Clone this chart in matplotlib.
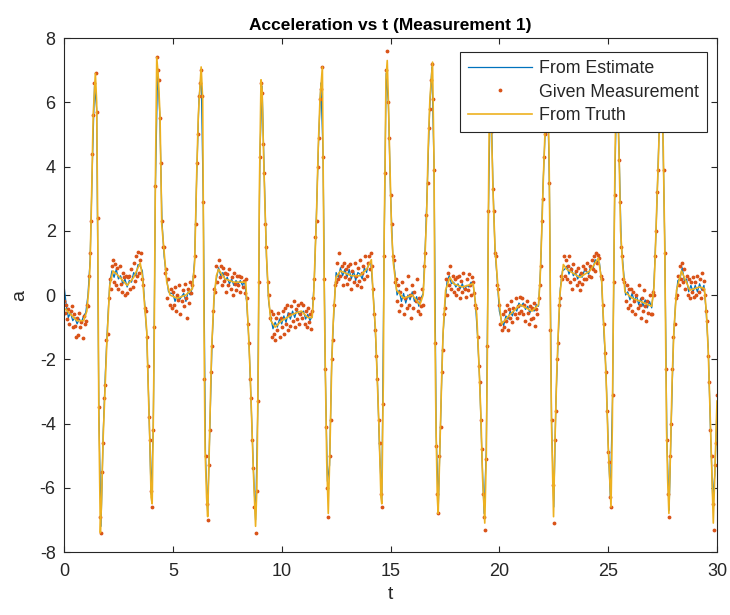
import numpy as np
import matplotlib
matplotlib.use("Agg")
import matplotlib.pyplot as plt

plt.rcParams['font.family'] = ['Liberation Sans', 'DejaVu Sans']
plt.rcParams['axes.unicode_minus'] = False

# True acceleration profile (breakpoints of the reference trajectory)
t_truth = [0.0, 0.3, 0.6, 0.9, 1.05, 1.15, 1.2, 1.28, 1.34, 1.44, 1.5, 1.55, 1.6, 1.67, 1.72, 1.8, 1.96,
           2.1, 2.25, 2.5, 2.9, 3.2, 3.5, 3.6, 3.7, 3.8, 3.87, 3.95, 4.0, 4.05, 4.1, 4.14, 4.19, 4.26,
           4.33, 4.41, 4.49, 4.64, 4.72, 4.87, 5.2, 5.6, 5.9, 6.0, 6.09, 6.17, 6.3, 6.37, 6.43, 6.48,
           6.55, 6.6, 6.7, 6.78, 6.89, 7.0, 7.1, 7.4, 7.8, 8.35, 8.47, 8.55, 8.62, 8.7, 8.8, 8.86,
           8.93, 8.97, 9.05, 9.1, 9.16, 9.23, 9.31, 9.4, 9.5, 9.7, 10.0, 10.5, 10.9, 11.2, 11.4,
           11.47, 11.52, 11.6, 11.68, 11.76, 11.87, 11.91, 11.96, 12.0, 12.07, 12.14, 12.22, 12.3,
           12.37, 12.49, 12.7, 13.2, 13.6, 13.9, 14.12, 14.2, 14.31, 14.39, 14.47, 14.56, 14.6,
           14.67, 14.71, 14.75, 14.79, 14.85, 14.9, 14.97, 15.05, 15.13, 15.28, 15.6, 16.0, 16.35,
           16.5, 16.56, 16.66, 16.73, 16.81, 16.93, 17.0, 17.04, 17.09, 17.15, 17.19, 17.27, 17.35,
           17.42, 17.53, 17.73, 17.9, 18.3, 18.8, 18.96, 19.06, 19.15, 19.23, 19.33, 19.4, 19.46,
           19.49, 19.53, 19.6, 19.64, 19.72, 19.8, 19.95, 20.1, 20.5, 20.95, 21.5, 21.8, 21.87,
           21.94, 22.02, 22.1, 22.2, 22.28, 22.32, 22.36, 22.4, 22.45, 22.49, 22.55, 22.63, 22.71,
           22.78, 22.94, 23.1, 23.7, 24.16, 24.55, 24.7, 24.77, 24.85, 24.93, 25.0, 25.13, 25.19,
           25.23, 25.28, 25.32, 25.4, 25.51, 25.57, 25.66, 25.77, 26.1, 26.5, 27.0, 27.1, 27.15,
           27.22, 27.3, 27.43, 27.53, 27.6, 27.65, 27.68, 27.73, 27.79, 27.87, 27.94, 28.02, 28.14,
           28.37, 28.75, 29.2, 29.42, 29.52, 29.6, 29.68, 29.75, 29.83, 29.9, 30.0]
a_truth = [-0.4, -0.6, -0.8, -0.8, -0.5, 0.3, 1.0, 3.5, 5.6, 6.9, 6.0, 2.0, -3.8, -7.4, -6.5, -4.4, -1.6,
           0.3, 0.75, 0.6, 0.3, 0.55, 1.0, 0.6, -0.3, -1.1, -2.9, -4.7, -6.3, -6.5, -4.0, -1.7, 3.0, 7.4,
           6.8, 5.6, 2.2, 1.0, 0.4, 0.0, -0.1, 0.0, 0.2, 1.0, 3.6, 5.6, 7.1, 6.1, -0.9, -4.8,
           -6.3, -6.9, -4.0, -1.7, -0.1, 0.6, 0.8, 0.5, 0.4, 0.4, -1.1, -2.4, -3.8, -5.5, -7.2, -6.0,
           -1.7, 3.0, 6.7, 6.4, 4.6, 2.8, 1.1, -0.1, -0.8, -1.0, -0.8, -0.6, -0.5, -0.7, -0.7,
           0.0, 1.0, 2.5, 4.6, 6.1, 7.1, 3.6, -0.1, -2.1, -5.2, -6.8, -4.7, -2.1,
           -0.8, 0.55, 0.75, 0.6, 0.6, 0.8, 1.1, 0.0, -1.1, -2.6, -4.1, -6.3, -6.5,
           -2.6, 2.0, 4.0, 6.7, 7.3, 6.1, 4.1, 2.0, 1.0, 0.15, -0.1, 0.0, -0.3,
           0.0, 0.8, 2.5, 4.6, 6.1, 7.25, 4.1, -1.1, -4.1, -6.3, -6.8, -4.7, -2.6,
           -1.1, 0.15, 0.55, 0.35, 0.25, 0.35, -0.6, -2.1, -3.7, -5.7, -7.1, -5.0, -1.1,
           2.0, 5.1, 7.0, 5.1, 3.0, 1.5, 0.1, -0.9, -0.6, -0.3, -0.5, -0.3, 0.45,
           1.8, 3.6, 5.1, 7.0, 4.6, 2.0, -1.8, -4.1, -5.7, -6.9, -4.7, -2.6, -1.1,
           0.0, 0.95, 0.8, 0.55, 0.75, 1.15, 0.45, -0.6, -1.6, -3.1, -4.7, -6.6, -4.1,
           -1.1, 2.0, 4.6, 7.0, 4.1, 2.0, 1.0, 0.1, -0.1, -0.2, -0.35, 0.2, 1.0,
           2.5, 4.1, 7.0, 4.6, 1.5, -2.1, -4.1, -5.7, -6.8, -4.7, -2.6, -1.1, 0.15,
           0.75, 0.15, 0.25, 0.2, -0.6, -1.8, -3.6, -5.2, -7.1, -5.5, -3.3]

# Accelerometer samples, 0.05 s apart (one row per second)
a_meas = [
    -0.2, -0.55, -0.3, -0.75, -0.45, -0.9, -0.5, -0.35, -1.0, -0.6, -0.95, -1.3, -0.7, -1.25, -0.55, -1.0, -0.85, -1.35, -0.65, -0.9,
    -0.8, -0.3, -0.35, 0.6, 1.3, 2.3, 4.4, 5.6, 6.6, 6.9, 5.7, 2.4, -3.5, -6.9, -7.4, -5.5, -4.6, -3.2, -2.8, -1.4,
    -1.2, -0.1, 0.5, 0.2, 0.9, 1.1, 0.4, 0.95, 0.3, 0.85, 0.2, 0.9, 0.35, 0.1, 0.7, 0.55, 0.0, 0.6, 0.05, 0.55,
    0.6, 0.2, 0.8, 0.25, 1.0, 0.45, 1.2, 0.6, 1.35, 0.7, 1.1, 1.3, 0.5, 0.3, -0.4, -0.5, -1.3, -2.2, -3.8, -4.5,
    -6.1, -6.6, -4.2, -1.0, 3.4, 7.4, 7.0, 6.7, 5.5, 4.1, 2.3, 1.5, 1.5, 0.7, 0.8, -0.1, 0.5, -0.3, 0.2, -0.4,
    0.1, -0.3, 0.25, -0.5, 0.0, -0.15, 0.3, -0.6, -0.2, 0.15, -0.35, 0.35, -0.1, -0.7, 0.2, -0.25, 0.4, 0.05, 0.3, 0.6,
    1.2, 2.2, 4.1, 5.0, 6.2, 6.6, 7.0, 6.2, 2.9, -2.6, -5.0, -6.5, -7.0, -5.3, -4.2, -2.4, -1.6, -0.5, 0.2, 0.1,
    0.9, 0.4, 1.1, 0.55, 0.9, 0.3, 0.85, 0.45, 0.7, 0.1, 0.65, 0.3, 0.8, 0.2, 0.55, 0.0, 0.7, 0.35, 0.15, 0.6,
    0.3, 0.6, 0.1, 0.55, 0.25, 0.45, 0.05, 0.5, -0.1, -0.9, -1.5, -2.6, -3.2, -4.5, -5.4, -6.6, -7.4, -6.1, -3.3, 0.4,
    4.3, 6.6, 6.3, 4.7, 3.8, 2.2, 1.5, 0.4, 0.0, -0.7, -0.5, -1.3, -0.6, -1.2, -1.4, -0.7, -1.1, -0.55, -1.3, -0.7,
    -1.0, -0.5, -1.2, -0.4, -0.9, -0.3, -1.1, -0.6, -0.95, -0.35, -0.8, -0.2, -1.0, -0.45, -0.75, -0.3, -0.9, -0.6, -0.25, -0.7,
    -0.3, -0.9, -0.5, -1.0, -0.4, -0.85, -0.6, -1.05, -0.5, -0.1, 0.5, 1.8, 2.3, 4.0, 4.9, 6.1, 6.4, 7.1, 4.3, 0.5,
    -2.3, -4.1, -6.0, -6.9, -5.0, -3.9, -2.0, -1.4, -0.3, 0.3, 0.4, 1.0, 0.5, 1.3, 0.6, 0.9, 0.3, 1.0, 0.55, 0.8,
    0.35, 0.9, 0.5, 0.95, 0.2, 0.75, 0.4, 1.0, 0.6, 0.3, 0.85, 0.45, 1.1, 0.25, 0.7, 0.9, 0.5, 1.2, 0.6, 1.0,
    1.2, 0.8, 1.3, 0.9, 0.2, -0.6, -1.1, -1.9, -2.6, -3.9, -4.6, -6.2, -6.6, -3.4, 1.2, 3.8, 7.0, 7.6, 6.0, 4.9,
    3.1, 2.2, 1.2, 1.1, 0.4, 0.5, -0.2, 0.3, -0.5, 0.1, -0.3, 0.4, -0.6, -0.1, 0.2, -0.4, 0.6, -0.3, 0.0, -0.7,
    0.3, -0.4, 0.1, -0.2, 0.5, -0.5, -0.1, -0.6, -0.35, 0.2, -0.3, 0.9, 1.3, 2.5, 3.5, 5.2, 5.8, 6.7, 7.2, 6.1,
    3.9, -1.5, -4.7, -6.2, -6.8, -5.0, -4.1, -2.4, -1.7, -0.6, -0.4, 0.5, 0.0, 0.7, 0.3, 0.9, 0.2, 0.6, 0.1, 0.5,
    0.0, 0.55, 0.2, 0.6, -0.1, 0.45, 0.1, 0.7, 0.2, -0.05, 0.5, 0.15, 0.65, 0.3, 0.0, 0.55, 0.4, 0.05, -0.3, -0.4,
    -1.3, -2.2, -2.7, -3.9, -4.8, -6.2, -6.9, -7.3, -5.1, -1.6, 2.6, 6.0, 7.1, 5.1, 3.3, 2.6, 1.3, 1.2, 0.3, 0.2,
    -0.3, -0.9, -1.1, -0.6, -1.0, -0.5, -0.8, -0.3, -1.1, -0.45, -0.7, -0.2, -0.85, -0.4, -0.6, -0.1, -0.7, -0.35, -0.55, -0.05,
    -0.5, -0.1, -0.6, -0.3, -0.8, -0.2, -0.55, -0.9, -0.35, -0.75, -0.4, -0.7, -0.25, -0.95, -0.45, -0.6, -0.1, 0.3, 0.9, 2.3,
    3.0, 4.3, 5.0, 6.2, 7.0, 5.3, 3.5, -1.1, -3.9, -5.9, -7.1, -4.5, -3.6, -2.0, -1.5, -0.3, -0.1, 0.6, 0.5, 1.2,
    0.6, 1.1, 0.5, 0.9, 1.2, 0.4, 0.8, 0.2, 0.95, 0.5, 0.75, 0.3, 0.85, 0.4, 0.15, 0.7, 0.35, 0.9, 0.5, 0.8,
    0.5, 1.0, 0.6, 0.9, 0.55, 1.1, 0.8, 1.2, 0.75, 1.3, 1.0, 1.25, 1.15, 0.6, 0.5, -0.3, -0.9, -1.8, -2.4, -3.6,
    -4.9, -5.2, -6.3, -6.6, -3.1, 0.4, 3.1, 5.6, 7.1, 5.4, 4.2, 2.9, 1.5, 1.2, 0.5, 0.4, -0.2, 0.3, -0.4, 0.2,
    -0.3, 0.2, -0.5, 0.1, -0.2, -0.6, 0.0, -0.4, 0.3, -0.3, -0.7, -0.1, -0.5, 0.15, -0.35, -0.8, -0.2, -0.55, 0.0, -0.6,
    -0.6, 0.1, 0.0, 1.2, 2.0, 3.2, 3.9, 5.5, 6.4, 7.0, 5.3, 3.9, 1.3, -2.3, -4.5, -6.2, -6.9, -5.0, -4.0, -2.3,
    -1.3, -0.9, -0.1, 0.0, 0.6, 0.3, 0.9, 0.5, 1.0, 0.4, 0.8, 0.2, 0.6, 0.0, 0.5, -0.1, 0.4, 0.1, 0.55, -0.05,
    0.4, 0.0, 0.6, 0.1, 0.5, -0.1, 0.7, 0.2, 0.45, 0.0, -0.5, -0.8, -1.9, -2.7, -4.2, -5.0, -6.5, -7.3, -5.3, -4.6, -3.1,
]
t_meas = np.linspace(0.0, 30.0, len(a_meas))

# Filter output, 0.1 s apart (one row per second)
a_est = [
    0.3, -0.3, -0.7, -0.55, -0.8, -0.7, -0.9, -0.75, -0.85, -0.65,
    -0.55, 0.0, 1.1, 4.0, 6.5, 5.8, -3.6, -7.2, -4.3, -2.4,
    -0.9, 0.35, 0.75, 0.55, 0.8, 0.5, 0.6, 0.35, 0.5, 0.25,
    0.45, 0.4, 0.7, 0.6, 0.95, 0.9, 0.75, -0.2, -1.2, -3.5,
    -6.2, -4.2, 3.4, 7.0, 5.6, 2.3, 1.2, 0.6, 0.1, 0.05,
    0.05, -0.2, 0.0, -0.15, -0.05, 0.05, -0.2, 0.1, 0.0, 0.25,
    1.1, 3.8, 6.1, 6.9, 2.8, -5.0, -6.8, -4.1, -1.5, 0.0,
    0.5, 0.85, 0.6, 0.7, 0.45, 0.55, 0.35, 0.5, 0.3, 0.45,
    0.35, 0.45, 0.3, 0.45, -0.3, -1.5, -3.5, -5.4, -7.0, -3.6,
    4.4, 6.5, 3.7, 1.2, -0.2, -0.7, -1.05, -0.85, -1.0, -0.75,
    -0.9, -0.65, -0.85, -0.55, -0.75, -0.5, -0.7, -0.45, -0.6, -0.55,
    -0.5, -0.75, -0.6, -0.8, -0.65, 0.5, 2.6, 4.9, 6.6, 4.4,
    -2.2, -5.8, -5.3, -2.0, -0.5, 0.7, 0.55, 0.85, 0.6, 0.8,
    0.55, 0.8, 0.5, 0.75, 0.45, 0.7, 0.65, 0.5, 0.85, 0.7,
    1.0, 1.0, 0.1, -1.1, -2.7, -4.9, -6.4, 1.1, 6.9, 6.0,
    3.2, 1.3, 0.7, 0.0, 0.15, -0.2, 0.05, -0.25, 0.0, -0.15,
    0.1, -0.2, -0.05, -0.35, -0.1, 0.05, 1.6, 3.6, 5.8, 7.1,
    4.0, -4.4, -6.5, -4.0, -1.4, -0.3, 0.45, 0.6, 0.35, 0.4,
    0.25, 0.35, 0.2, 0.35, 0.15, 0.3, 0.25, 0.4, 0.3, -0.25,
    -1.3, -2.7, -5.0, -6.8, -4.8, 2.6, 6.9, 3.6, 1.4, 0.5,
    -0.5, -0.8, -0.95, -0.65, -0.75, -0.5, -0.65, -0.4, -0.5, -0.25,
    -0.35, -0.25, -0.45, -0.35, -0.55, -0.45, -0.5, -0.3, -0.35, 0.9,
    3.3, 5.0, 6.9, 3.4, -4.0, -6.6, -3.3, -1.4, 0.2, 0.75,
    0.8, 0.9, 0.65, 0.85, 0.6, 0.7, 0.5, 0.65, 0.55, 0.75,
    0.75, 0.65, 0.9, 0.8, 1.1, 1.05, 1.0, 0.4, -1.1, -2.4,
    -4.6, -6.3, -3.2, 3.2, 6.9, 4.5, 1.6, 0.8, 0.0, 0.1,
    -0.15, 0.05, -0.2, 0.0, -0.3, -0.1, -0.35, -0.15, -0.4, -0.2,
    -0.4, 0.3, 2.0, 4.2, 6.4, 5.6, 1.6, -4.6, -6.7, -3.9,
    -1.4, -0.2, 0.45, 0.5, 0.85, 0.45, 0.5, 0.1, 0.3, 0.1,
    0.3, 0.1, 0.35, 0.15, 0.3, -0.5, -1.7, -4.2, -6.3, -5.6, -3.5,
]
t_est = np.linspace(0.0, 30.0, len(a_est))

x_ticks = [0, 5, 10, 15, 20, 25, 30]
y_ticks = [-8, -6, -4, -2, 0, 2, 4, 6, 8]

blue = '#0072BD'
orange = '#D95319'
yellow = '#EDB120'
axis_col = '#262626'

fig = plt.figure(figsize=(7.3, 6.15), dpi=100)
ax = fig.add_axes([0.0877, 0.1024, 0.8945, 0.8358])

ax.plot(t_est, a_est, color=blue, lw=0.9, label='From Estimate')
ax.plot(t_meas, a_meas, linestyle='none', marker='.', markersize=3.5,
        color=orange, label='Given Measurement')
ax.plot(t_truth, a_truth, color=yellow, lw=1.2, label='From Truth')

ax.set_xlim(0, 30)
ax.set_ylim(-8, 8)
ax.set_xticks(x_ticks)
ax.set_yticks(y_ticks)
ax.tick_params(direction='in', top=True, right=True, length=4, width=0.8,
               colors=axis_col, labelsize=13)
ax.tick_params(axis='x', pad=8)
ax.tick_params(axis='y', pad=6)
for sp in ax.spines.values():
    sp.set_color(axis_col)
    sp.set_linewidth(0.8)

ax.set_title('Acceleration vs t (Measurement 1)', fontsize=12.5, fontweight='bold',
             color='black', pad=6)
ax.set_xlabel('t', fontsize=14, color=axis_col, labelpad=4)
ax.set_ylabel('a', fontsize=14, color=axis_col, labelpad=8)

leg = ax.legend(loc='upper right', bbox_to_anchor=(0.9845, 0.973), fontsize=12.8,
                frameon=True, fancybox=False, edgecolor=axis_col, framealpha=1,
                handlelength=3.6, borderpad=0.45, labelspacing=0.38, handletextpad=0.4,
                borderaxespad=0.0, markerscale=1.0)
leg.get_frame().set_linewidth(0.8)
for txt in leg.get_texts():
    txt.set_color(axis_col)

fig.savefig('out.png', dpi=100)
